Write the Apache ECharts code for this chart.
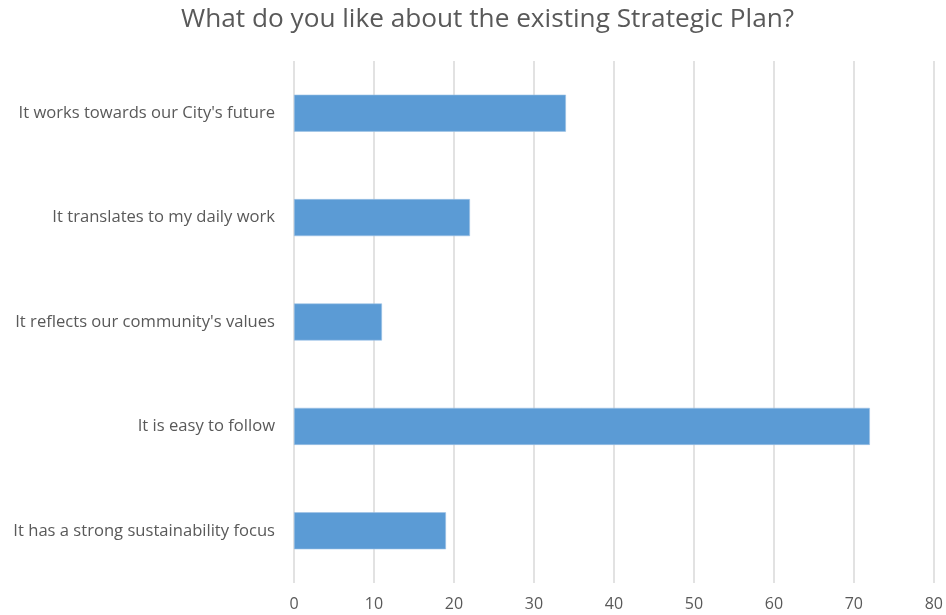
<!DOCTYPE html>
<html>
<head>
<meta charset="utf-8">
<script src="https://cdn.jsdelivr.net/npm/echarts@6/dist/echarts.min.js"></script>
<style>
  html, body { margin: 0; padding: 0; background: #fff; }
  #chart { width: 946px; height: 615px; }
</style>
</head>
<body>
<div id="chart"></div>
<script>
// Survey responses, listed bottom-to-top as drawn on the category axis
const categories = [
  "It has a strong sustainability focus",
  "It is easy to follow",
  "It reflects our community's values",
  "It translates to my daily work",
  "It works towards our City's future"
];
const responses = [19, 72, 11, 22, 34];
const xTicks = [0, 10, 20, 30, 40, 50, 60, 70, 80];

const fontFamily = "'Open Sans', Lato, sans-serif";
const chart = echarts.init(document.getElementById('chart'), null, { renderer: 'canvas' });

chart.setOption({
  animation: false,
  title: {
    text: "What do you like about the existing Strategic Plan?",
    left: 176,
    top: 2,
    textStyle: { fontFamily, fontSize: 26.2, fontWeight: 'normal', color: '#595959' }
  },
  grid: { left: 294, right: 8, top: 61, bottom: 32, containLabel: false },
  xAxis: {
    type: 'value',
    min: xTicks[0],
    max: xTicks[xTicks.length - 1],
    interval: 10,
    axisLine: { show: false },
    axisTick: { show: false },
    splitLine: { show: true, lineStyle: { color: '#d9d9d9', width: 1.5 } },
    axisLabel: { fontFamily, fontSize: 16, color: '#595959', margin: 13 }
  },
  yAxis: {
    type: 'category',
    data: categories,
    axisLine: { show: false },
    axisTick: { show: false },
    axisLabel: { fontFamily, fontSize: 16.6, color: '#595959', margin: 19 }
  },
  series: [{
    type: 'bar',
    data: responses,
    barWidth: '35.5%',
    itemStyle: { color: '#5b9bd5', borderColor: '#9dc3e6', borderWidth: 0.6 }
  }]
});
</script>
</body>
</html>
